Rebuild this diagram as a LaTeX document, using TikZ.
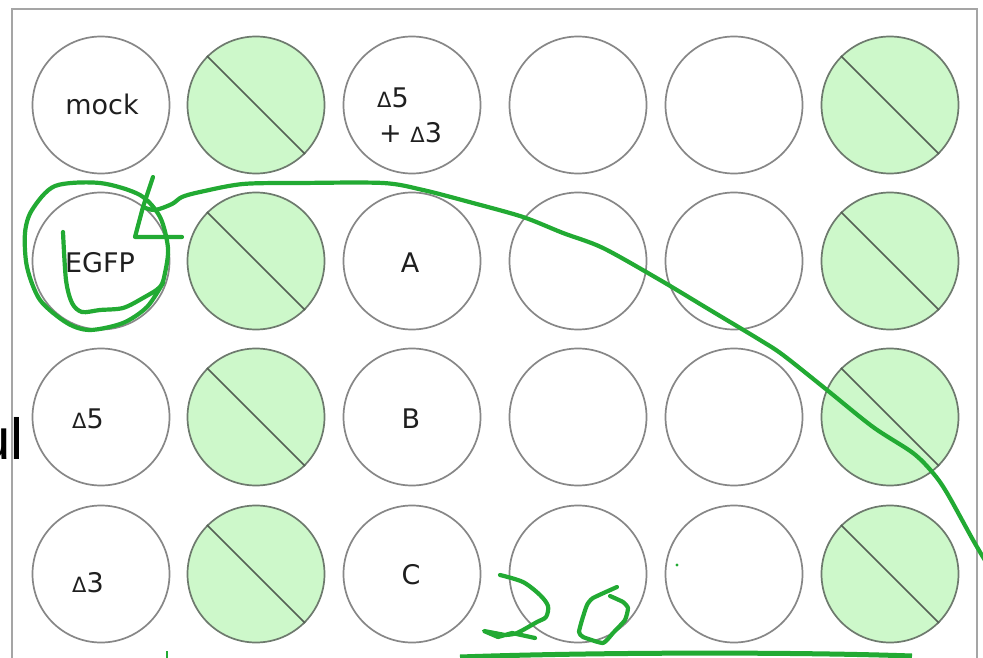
\documentclass[tikz,border=0pt]{standalone}
\usepackage{fontspec}
\setmainfont{DejaVu Sans}
\newfontfamily\arialfont{Liberation Sans}
\definecolor{wellgreen}{RGB}{205,248,202}
\definecolor{wellline}{RGB}{135,135,135}
\definecolor{greenedge}{RGB}{110,122,110}
\definecolor{diagcol}{RGB}{85,97,85}
\definecolor{pen}{RGB}{34,170,51}
\definecolor{platel}{RGB}{165,165,165}
\newcommand\dsym{{\fontsize{21}{21}\selectfont Δ}}
\begin{document}
\begin{tikzpicture}[x=1pt,y=-1pt,
  well/.style={circle,draw=wellline,line width=1.7pt,minimum size=137pt,inner sep=0pt},
  fullwell/.style={well,fill=wellgreen,draw=greenedge},
  diagline/.style={draw=diagcol,line width=1.5pt},
  lbl/.style={font=\fontsize{27}{32}\selectfont,text=black!88,inner sep=0pt,anchor=base},
  lbll/.style={lbl,anchor=base west},
  ink/.style={draw=pen,line width=4.2pt,line cap=round,line join=round}]
\useasboundingbox (0,0) rectangle (983,658);
\clip (0,0) rectangle (983,658);
\fill[white] (0,0) rectangle (983,658);
\draw[platel,line width=2.2pt] (12,9) rectangle (977,720);
% wells
\foreach \c/\x in {1/101,3/412,4/578,5/734}
  \foreach \r/\y in {1/105,2/261,3/417,4/574}
    \node[well] (w\r\c) at (\x,\y) {};
\foreach \c/\x in {2/256,6/890}
  \foreach \r/\y in {1/105,2/261,3/417,4/574}
    {\node[fullwell] (w\r\c) at (\x,\y) {};
     \draw[diagline] (w\r\c.135) -- (w\r\c.-45);}
% labels
\node[lbl] (tmock) at (102,115) {mock};
\node[lbl] (tegfp) at (100,272) {EGFP};
\node[lbl] (ta) at (410,272) {A};
\node[lbl] (tb) at (411,428) {B};
\node[lbl] (tc) at (411,584) {C};
\node[lbll] (tdfive) at (72,428) {\dsym5};
\node[lbll] (tdthree) at (72,592) {\dsym3};
\node[lbll] (tmixa) at (377,108) {\dsym5};
\node[lbll] (tmixb) at (379,143) {+ \dsym3};
\node[font=\arialfont\fontsize{58}{60}\selectfont,anchor=base east,inner sep=0pt] (ul) at (24,459) {ul};
% green handwriting
\draw[ink] plot[smooth,tension=0.5] coordinates {(63,232) (66,280) (72,303) (82,312) (100,310) (123,308) (143,298) (160,287) (165,273) (168,248) (160,217) (140,195) (100,183) (55,186) (32,210) (25,233) (27,267) (40,300) (67,323) (90,330) (123,323) (147,307) (163,283)};
\draw[ink] (153,177) -- (143,207) -- (135,237) -- (182,237);
\draw[ink] plot[smooth,tension=0.5] coordinates {(143,207) (155,210) (172,204) (182,197) (200,192) (243,184) (300,183) (383,183) (423,190) (473,203) (523,217) (563,233) (603,248) (660,280) (710,310) (760,340) (783,355) (827,390) (873,427) (913,453) (933,473) (947,493) (973,540) (986,562)};
\draw[ink] plot[smooth,tension=0.5] coordinates {(500,575) (523,582) (540,595) (548,606) (546,617) (537,622) (517,633) (505,635)} -- (484,631) -- (498,637) -- (512,633) -- (535,638);
\draw[ink] plot[smooth,tension=0.3] coordinates {(617,587) (593,598) (587,605) (582,620) (579,632) (583,637) (603,643) (613,633) (625,620) (628,608) (623,602) (610,596)};
\fill[pen] (677,565) circle (1.6pt);
\draw[pen,line width=5pt] (460,657) .. controls (600,652) and (800,652) .. (912,656);
\draw[pen,line width=2.5pt] (167,651) -- (167,662);
\end{tikzpicture}
\end{document}
